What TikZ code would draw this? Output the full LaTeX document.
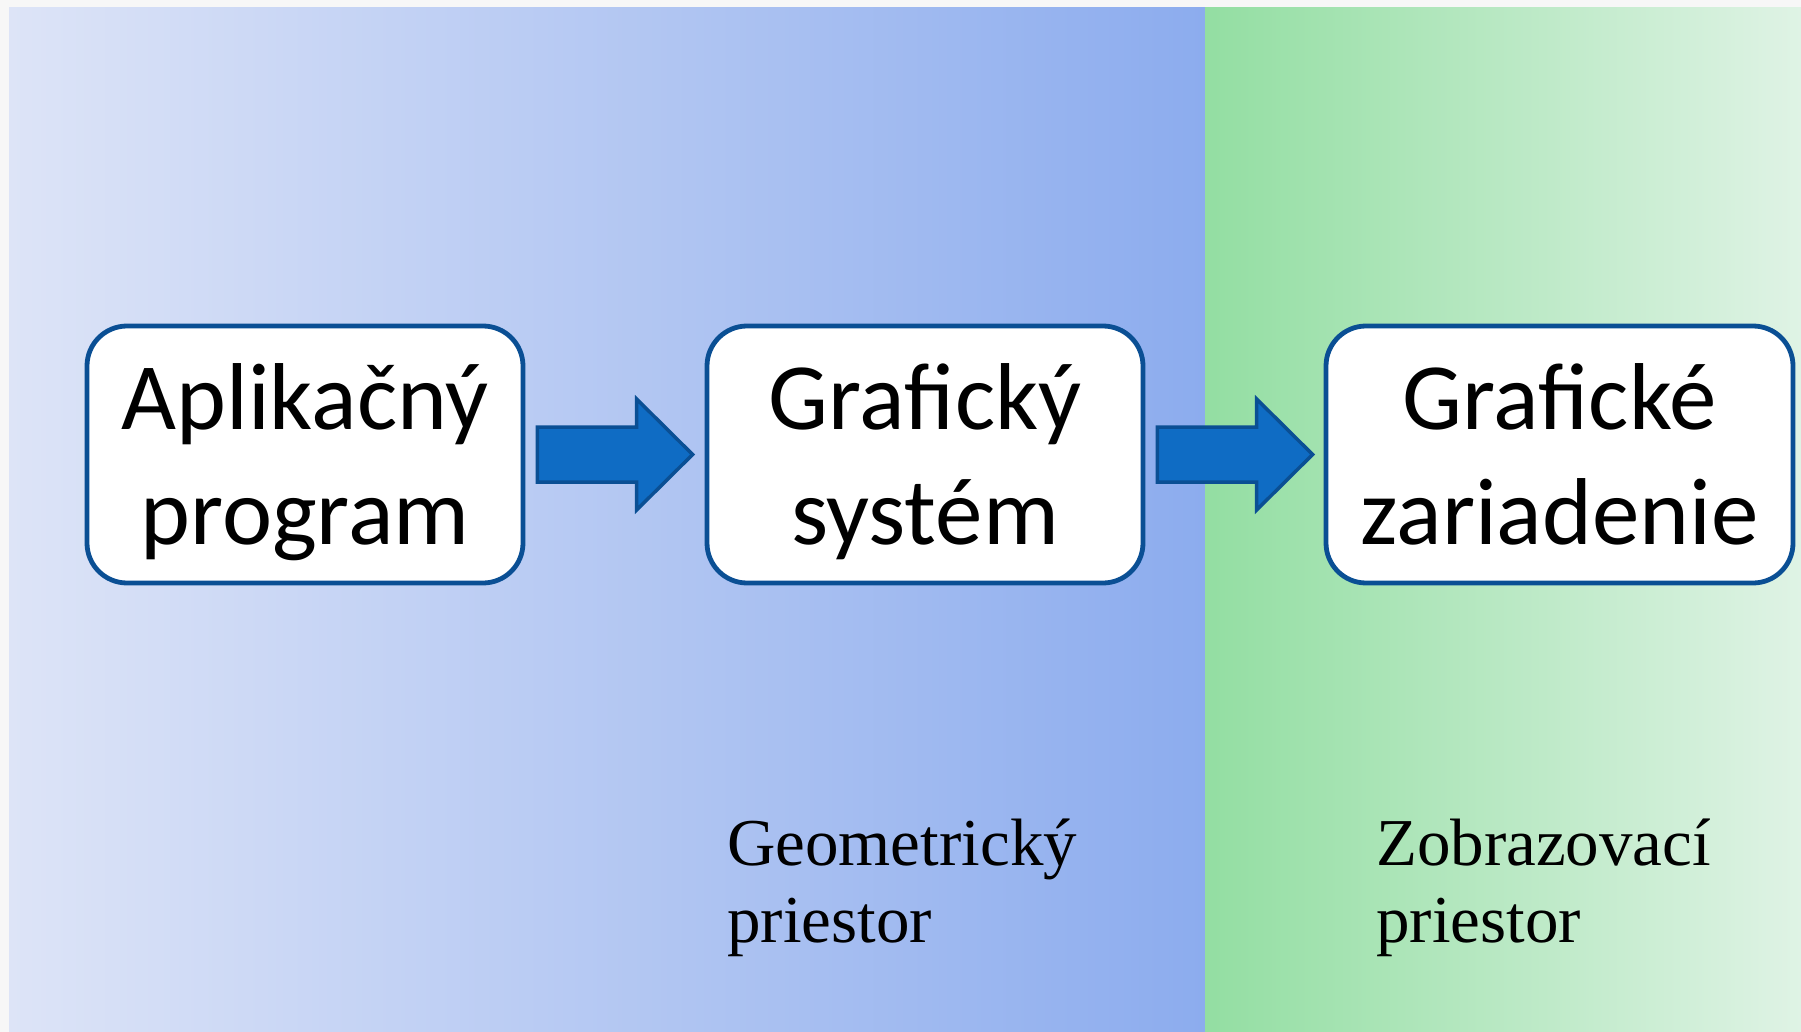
\documentclass[tikz,border=0pt]{standalone}
\usepackage{fontspec}
\newfontfamily\boxfont{Carlito}
\newfontfamily\labfont{Liberation Serif}
\usetikzlibrary{calc}
\definecolor{bgL}{HTML}{DDE4F7}
\definecolor{bgR}{HTML}{8CACEE}
\definecolor{grL}{HTML}{93DEA2}
\definecolor{grR}{HTML}{DFF3E5}
\definecolor{edge}{HTML}{0A4F94}
\definecolor{arrfill}{HTML}{0F6CC4}
\tikzset{
  box/.style={draw=edge, line width=4.8pt, fill=white, rounded corners=40pt,
    minimum width=436pt, minimum height=257pt, align=center, inner sep=0pt,
    text height=204pt, text depth=25pt,
    font=\boxfont\fontsize{95}{115}\selectfont},
  spacelabel/.style={align=left, inner sep=0pt, anchor=base west,
    font=\labfont\fontsize{67}{77}\selectfont},
  fatarrow/.style={draw=edge, line width=3.5pt, fill=arrfill, line join=miter}
}
\begin{document}
\begin{tikzpicture}[x=1pt,y=-1pt]
\useasboundingbox (0,0) rectangle (1801,1032);
\fill[white!97!black] (0,0) rectangle (1801,1032);
\shade[left color=bgL, right color=bgR] (9,8) rectangle (1205,1032);
\shade[left color=grL, right color=grR] (1205,8) rectangle (1801,1032);

\node[box] (a) at (305,454.5) {Aplikačný\\program};
\node[box] (b) at (925,454.5) {Grafický\\systém};
\node[box, minimum width=467pt] (c) at (1559.5,454.5) {Grafické\\zariadenie};

\draw[fatarrow] let \p1=($(a.east)+(12pt,0)$), \p2=($(b.west)+(-12pt,0)$) in
  (\x1,\y1+27.5pt) -- (\x2-56pt,\y1+27.5pt) -- (\x2-56pt,\y1+55.5pt) -- (\x2,\y1)
  -- (\x2-56pt,\y1-55.5pt) -- (\x2-56pt,\y1-27.5pt) -- (\x1,\y1-27.5pt) -- cycle;
\draw[fatarrow] let \p1=($(b.east)+(12pt,0)$), \p2=($(c.west)+(-11pt,0)$) in
  (\x1,\y1+27.5pt) -- (\x2-56pt,\y1+27.5pt) -- (\x2-56pt,\y1+55.5pt) -- (\x2,\y1)
  -- (\x2-56pt,\y1-55.5pt) -- (\x2-56pt,\y1-27.5pt) -- (\x1,\y1-27.5pt) -- cycle;

\node[spacelabel] (g) at (727,942) {Geometrický\\priestor};
\node[spacelabel] (z) at (1376,942) {Zobrazovací\\priestor};
\end{tikzpicture}
\end{document}
